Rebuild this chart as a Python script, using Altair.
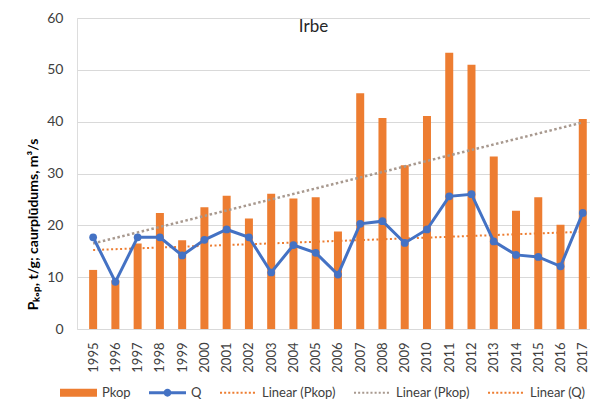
import altair as alt
import pandas as pd

# ---- data ----
years = list(range(1995, 2018))
pkop = [11.4, 9.4, 16.5, 22.4, 17.1, 23.5, 25.7, 21.3, 26.1, 25.2, 25.4, 18.8,
        45.5, 40.7, 31.6, 41.1, 53.3, 51.0, 33.3, 22.8, 25.4, 20.1, 40.5]
q = [17.7, 9.1, 17.7, 17.7, 14.2, 17.2, 19.2, 17.7, 10.9, 16.2, 14.7, 10.5,
     20.3, 20.8, 16.6, 19.2, 25.6, 26.0, 16.9, 14.3, 13.9, 12.1, 22.4]
y_ticks = [0, 10, 20, 30, 40, 50, 60]
series_names = ["Pkop", "Q", "Linear (Pkop)", "Linear (Pkop) ", "Linear (Q)"]
series_colors = ["#ED7D31", "#4472C4", "#ED7D31", "#A8998F", "#ED7D31"]

ORANGE = "#ED7D31"
BLUE = "#4472C4"
GRAY = "#A8998F"
FONT = "Lato"

# legend symbol shapes (unit box paths)
rect_path = "M-1,-0.22H1V0.22H-1Z"
q_path = ("M-1,-0.08H1V0.08H-1Z "
          "M-0.21,0A0.21,0.21 0 1,1 0.21,0A0.21,0.21 0 1,1 -0.21,0Z")


def dotted(n=9, step=0.2225, d=0.11):
    return " ".join(
        f"M{(-1 + i * step):.3f},{-d / 2:.3f}h{d}v{d}h{-d}Z" for i in range(n)
    )


dot_path = dotted()
series_shapes = [rect_path, q_path, dot_path, dot_path, dot_path]

df = pd.DataFrame({"year": years, "pkop": pkop, "q": q})
leg = pd.DataFrame({"series": series_names,
                    "year": [years[0]] * len(series_names),
                    "v": [-20] * len(series_names)})

x_enc = alt.X(
    "year:Q",
    scale=alt.Scale(domain=[1994.5, 2017.1], nice=False, zero=False),
    axis=alt.Axis(values=years, format="d", labelAngle=-90, grid=False,
                  ticks=False, tickSize=0, domain=False, labelPadding=13,
                  labelFont=FONT, labelFontSize=13, labelColor="#404040",
                  labelOverlap=False, labelFlush=False, title=None),
)

y_scale = alt.Scale(domain=[0, 60], nice=False, zero=True)
y_axis = alt.Axis(values=y_ticks, grid=True, gridColor="#D9D9D9", gridWidth=1,
                  ticks=False, tickSize=0, domain=False, labelPadding=14,
                  labelFont=FONT, labelFontSize=14, labelColor="#404040",
                  title="Pₖₒₚ, t/g; caurplūdums, m³/s",
                  titleFont=FONT, titleFontSize=14, titleFontWeight="bold",
                  titleColor="#000000", titleAngle=270, titleAlign="center",
                  titleBaseline="middle", titleX=-44, titleY=206)


def Y(field):
    return alt.Y(f"{field}:Q", scale=y_scale, axis=y_axis)


bars = alt.Chart(df).mark_bar(color=ORANGE, size=8, clip=True).encode(x=x_enc, y=Y("pkop"))

trend_p = (alt.Chart(df).transform_regression("year", "pkop")
           .mark_line(color=GRAY, strokeWidth=2.5, strokeDash=[2.5, 2.5])
           .encode(x=x_enc, y=Y("pkop")))

trend_q = (alt.Chart(df).transform_regression("year", "q")
           .mark_line(color=ORANGE, strokeWidth=2, strokeDash=[2, 2.5])
           .encode(x=x_enc, y=Y("q")))

qline = (alt.Chart(df)
         .mark_line(color=BLUE, strokeWidth=3,
                    point=alt.OverlayMarkDef(color=BLUE, size=60, filled=True,
                                             opacity=1))
         .encode(x=x_enc, y=Y("q")))

legend_def = alt.Legend(orient="none", legendX=-17, legendY=356,
                        direction="horizontal", columns=5, title=None,
                        symbolSize=1369, symbolStrokeWidth=0, symbolOpacity=1,
                        labelFont=FONT, labelFontSize=13, labelColor="#404040",
                        labelExpr="trim(datum.label)",
                        labelOffset=5, columnPadding=18, padding=0)

legend_layer = (alt.Chart(leg)
                .mark_point(filled=True, opacity=1, clip=True)
                .encode(x=x_enc, y=Y("v"),
                        color=alt.Color("series:N",
                                        scale=alt.Scale(domain=series_names,
                                                        range=series_colors),
                                        legend=legend_def),
                        shape=alt.Shape("series:N",
                                        scale=alt.Scale(domain=series_names,
                                                        range=series_shapes),
                                        legend=legend_def)))

chart = (alt.layer(bars, trend_p, trend_q, qline, legend_layer)
         .properties(width=513, height=311,
                     autosize=alt.AutoSizeParams(type="none"),
                     padding={"left": 69, "top": 10, "right": 0, "bottom": 72},
                     title=alt.TitleParams("Irbe", font=FONT, fontSize=17,
                                           fontWeight="normal", color="#262626",
                                           anchor="middle", orient="top",
                                           offset=0, baseline="alphabetic",
                                           dy=38, dx=-20))
         .configure_view(stroke=None)
         .configure(background="white"))

chart.save("out.html", embed_options={"renderer": "svg", "actions": False})
